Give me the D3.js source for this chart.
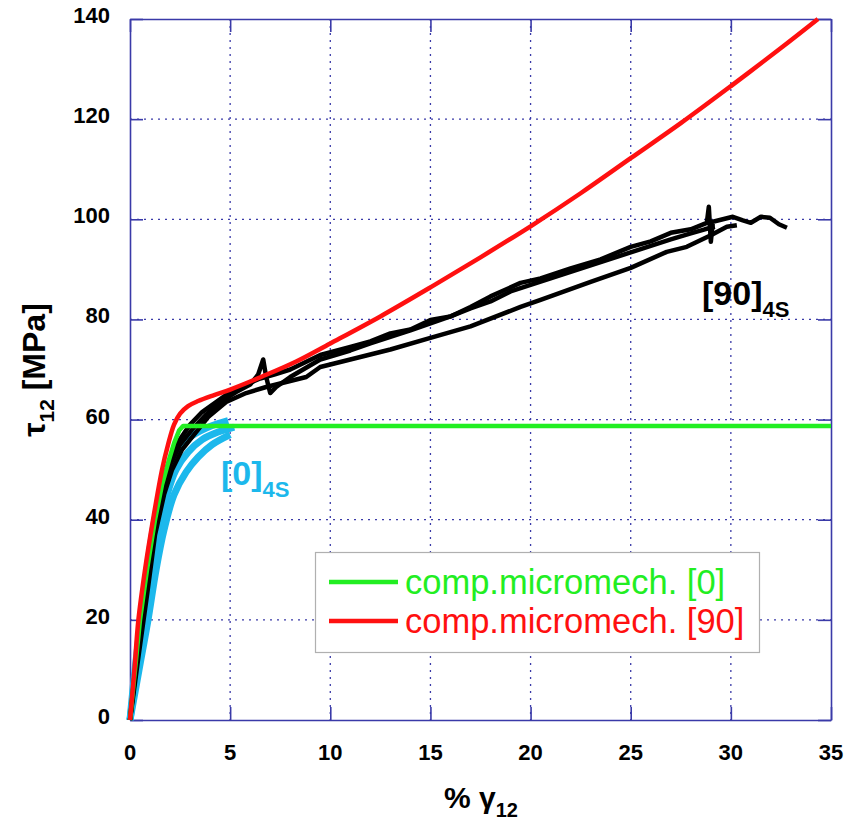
<!DOCTYPE html>
<html>
<head>
<meta charset="utf-8">
<script src="https://cdn.jsdelivr.net/npm/d3@7"></script>
<style>
  html, body { margin: 0; padding: 0; background: #fff; }
  svg { display: block; }
</style>
</head>
<body>
<div id="chart"></div>
<script>
// ---------------- DATA ----------------
const xTicks = [0, 5, 10, 15, 20, 25, 30, 35];
const yTicks = [0, 20, 40, 60, 80, 100, 120, 140];

// model: comp.micromech. [90]  (x = % strain, y = MPa)
const red90X = [0, 0.22, 0.42, 0.75, 1.15, 1.6, 1.9, 2.2, 2.5, 2.9, 3.4, 4.2, 5.0, 6.6, 8.3, 10.0, 12.5, 15.0, 17.5, 20.0, 22.5, 25.0, 27.5, 30.0, 32.5, 34.35];
const red90Y = [0, 10, 20, 30, 40, 50, 55, 59, 61.2, 62.7, 63.7, 64.9, 66.0, 68.6, 71.6, 75.2, 80.6, 86.4, 92.4, 98.6, 105.2, 112.2, 119.2, 126.6, 134.2, 140];

// model: comp.micromech. [0]
const green0X = [0, 0.25, 0.5, 0.85, 1.25, 1.6, 1.95, 2.2, 2.45, 2.65, 35];
const green0Y = [0, 10, 20, 30, 40, 47, 52, 55.3, 57.8, 58.7, 58.7];

// experiments [0]4s (three specimens)
const blue1X = [0, 0.25, 0.55, 0.85, 1.15, 1.5, 1.9, 2.4, 3.0, 3.8, 4.4, 4.9];
const blue1Y = [0, 10, 20, 30, 38, 45, 50, 54, 56.5, 58.3, 59.2, 59.8];
const blue2X = [0, 0.35, 0.75, 1.1, 1.45, 1.85, 2.3, 2.9, 3.6, 4.4, 5.2];
const blue2Y = [0, 10, 20, 30, 38, 45, 50, 53.5, 56, 57.5, 58.5];
const blue3X = [0, 0.45, 0.9, 1.3, 1.7, 2.2, 2.8, 3.4, 4.1, 5.0];
const blue3Y = [0, 10, 20, 30, 38, 45, 49.5, 52.5, 55, 57];

// experiments [90]4s (three specimens)
const blackAX = [0, 0.3, 0.7, 1.1, 1.5, 1.9, 2.4, 3.0, 3.6, 4.3, 5.0, 5.8, 6.5, 7.2, 8.0, 9.5, 11, 12, 13, 14, 15, 16, 17, 18, 19.5, 20.5, 22, 23.5, 25, 26, 27, 28, 28.8, 28.9, 29.0, 29.1, 30.1, 30.6, 31.0, 31.5, 31.95, 32.4, 32.8];
const blackAY = [0, 12, 25, 37, 45, 51, 55.5, 59, 61.5, 63.5, 65.5, 67, 68.2, 69, 70, 72.9, 74.5, 75.6, 77.2, 78.0, 79.9, 80.6, 82.5, 84.6, 87.3, 88.2, 90.2, 92.0, 94.5, 95.6, 97.3, 98.0, 99.3, 102.5, 95.5, 99.5, 100.5, 99.8, 99.3, 100.5, 100.3, 99.0, 98.3];
const blackCX = [0, 0.35, 0.8, 1.2, 1.6, 2.0, 2.5, 3.1, 3.8, 4.5, 5.3, 6.0, 6.4, 6.65, 6.8, 7.0, 7.3, 8.0, 9.5, 11, 12, 13, 14, 15, 16, 17, 18, 19, 21, 23, 25, 27, 28, 28.7, 29.2];
const blackCY = [0, 12, 25, 37, 45, 51, 55, 58, 61, 63.5, 65.5, 67, 69, 72, 68.5, 65.3, 66.5, 68.5, 72, 73.8, 75.2, 76.5, 77.8, 79.2, 80.6, 82.2, 83.6, 85.6, 88.2, 90.8, 93.4, 96, 97.2, 98, 98.5];
const blackBX = [0, 0.4, 0.85, 1.25, 1.7, 2.1, 2.6, 3.2, 3.9, 4.8, 5.8, 6.8, 8.8, 9.5, 11, 13, 15, 17, 19.5, 20.5, 23, 25, 26.8, 27.8, 29, 29.8, 30.3];
const blackBY = [0, 12, 25, 37, 45, 50, 54, 57, 60.5, 63.5, 65.3, 66.5, 68.5, 70.5, 72, 74, 76.3, 78.6, 82.5, 83.9, 87.5, 90.3, 93.5, 94.5, 96.8, 98.5, 98.8];

const legendLabels = ["comp.micromech. [0]", "comp.micromech. [90]"];
const legendColors = ["#22ee22", "#ff1010"];

// ---------------- LAYOUT ----------------
const W = 858, H = 829;
const L = 130, R = 831, T = 19, B = 720;
const axisColor = "#3a3aa8";
const cyan = "#1cb8ec";

const svg = d3.select("#chart").append("svg").attr("width", W).attr("height", H)
  .style("font-family", "Arial, 'Liberation Sans', Helvetica, sans-serif");

const x = d3.scaleLinear().domain([0, 35]).range([L, R]);
const y = d3.scaleLinear().domain([0, 140]).range([B, T]);

// grid
const grid = svg.append("g");
grid.selectAll("line.gx").data(xTicks.filter(v => v > 0 && v < 35)).enter().append("line")
  .attr("x1", d => x(d)).attr("x2", d => x(d)).attr("y1", T).attr("y2", B)
  .attr("stroke", axisColor).attr("stroke-width", 1.3).attr("stroke-dasharray", "2,5");
grid.selectAll("line.gy").data(yTicks.filter(v => v > 0 && v < 140)).enter().append("line")
  .attr("y1", d => y(d)).attr("y2", d => y(d)).attr("x1", L).attr("x2", R)
  .attr("stroke", axisColor).attr("stroke-width", 1.3).attr("stroke-dasharray", "2,5");

// axes with inward ticks
const axB = svg.append("g").attr("transform", `translate(0,${B})`)
  .call(d3.axisBottom(x).tickValues(xTicks).tickSize(-13).tickSizeOuter(0).tickFormat(""));
const axT = svg.append("g").attr("transform", `translate(0,${T})`)
  .call(d3.axisTop(x).tickValues(xTicks).tickSize(-13).tickSizeOuter(0).tickFormat(""));
const axL = svg.append("g").attr("transform", `translate(${L},0)`)
  .call(d3.axisLeft(y).tickValues(yTicks).tickSize(-13).tickSizeOuter(0).tickFormat(""));
const axR = svg.append("g").attr("transform", `translate(${R},0)`)
  .call(d3.axisRight(y).tickValues(yTicks).tickSize(-13).tickSizeOuter(0).tickFormat(""));
[axB, axT, axL, axR].forEach(a => {
  a.selectAll("path.domain").attr("stroke", axisColor).attr("stroke-width", 1.6);
  a.selectAll(".tick line").attr("stroke", axisColor).attr("stroke-width", 1.6);
});

// tick labels
svg.append("g").selectAll("text").data(xTicks).enter().append("text")
  .attr("x", d => x(d)).attr("y", 760).attr("text-anchor", "middle")
  .attr("font-size", 22).attr("font-weight", "bold").attr("fill", "#000").text(d => d);
svg.append("g").selectAll("text").data(yTicks).enter().append("text")
  .attr("x", 110).attr("y", d => y(d) + 4).attr("text-anchor", "end")
  .attr("font-size", 22).attr("font-weight", "bold").attr("fill", "#000").text(d => d);

// axis titles
const xt = svg.append("text").attr("x", 481).attr("y", 808).attr("text-anchor", "middle")
  .attr("font-size", 30).attr("font-weight", "bold").attr("fill", "#000");
xt.append("tspan").text("% γ");
xt.append("tspan").attr("font-size", 20).attr("dy", 9).text("12");

const yt = svg.append("text").attr("transform", "translate(45,370) rotate(-90)")
  .attr("text-anchor", "middle").attr("font-size", 32).attr("font-weight", "bold").attr("fill", "#000");
yt.append("tspan").text("τ");
yt.append("tspan").attr("font-size", 21).attr("dy", 9).text("12");
yt.append("tspan").attr("dy", -9).text(" [MPa]");

// curves
const line = d3.line().x(d => x(d[0])).y(d => y(d[1]));
const smooth = d3.line().x(d => x(d[0])).y(d => y(d[1])).curve(d3.curveCatmullRom.alpha(0.5));
const zip = (a, b) => a.map((v, i) => [v, b[i]]);
const plot = svg.append("g");

[[blue1X, blue1Y], [blue2X, blue2Y], [blue3X, blue3Y]].forEach(([xs, ys]) => {
  plot.append("path").attr("d", smooth(zip(xs, ys))).attr("fill", "none")
    .attr("stroke", cyan).attr("stroke-width", 7).attr("stroke-linejoin", "round");
});
[[blackAX, blackAY], [blackCX, blackCY], [blackBX, blackBY]].forEach(([xs, ys]) => {
  plot.append("path").attr("d", line(zip(xs, ys))).attr("fill", "none")
    .attr("stroke", "#000").attr("stroke-width", 4.5).attr("stroke-linejoin", "round");
});
plot.append("path").attr("d", line(zip(green0X, green0Y))).attr("fill", "none")
  .attr("stroke", legendColors[0]).attr("stroke-width", 4.5).attr("stroke-linejoin", "round");
plot.append("path").attr("d", smooth(zip(red90X, red90Y))).attr("fill", "none")
  .attr("stroke", legendColors[1]).attr("stroke-width", 4.5);

// annotations
const a90 = svg.append("text").attr("x", 702).attr("y", 305).attr("font-size", 34)
  .attr("font-weight", "bold").attr("fill", "#000");
a90.append("tspan").text("[90]");
a90.append("tspan").attr("font-size", 22).attr("dy", 12).text("4S");

const a0 = svg.append("text").attr("x", 221).attr("y", 485).attr("font-size", 34)
  .attr("font-weight", "bold").attr("fill", cyan);
a0.append("tspan").text("[0]");
a0.append("tspan").attr("font-size", 22).attr("dy", 12).text("4S");

// legend
const lg = svg.append("g");
lg.append("rect").attr("x", 315.5).attr("y", 552.5).attr("width", 444).attr("height", 100)
  .attr("fill", "#fff").attr("stroke", "#b0b0b0").attr("stroke-width", 1.2);
legendLabels.forEach((lab, i) => {
  const ly = 582 + i * 39;
  lg.append("line").attr("x1", 329).attr("x2", 398).attr("y1", ly).attr("y2", ly)
    .attr("stroke", legendColors[i]).attr("stroke-width", 4.5);
  lg.append("text").attr("x", 405).attr("y", ly + 12).attr("font-size", 34.5)
    .attr("fill", legendColors[i]).text(lab);
});
</script>
</body>
</html>
